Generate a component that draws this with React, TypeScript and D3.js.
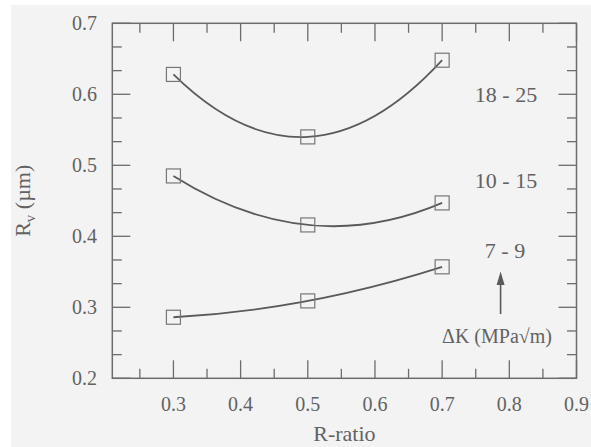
import React from "react";
import * as d3 from "d3";

const rRatio = [0.3, 0.5, 0.7];
const rv18to25 = [0.628, 0.54, 0.648];
const rv10to15 = [0.485, 0.416, 0.447];
const rv7to9 = [0.286, 0.309, 0.357];
const seriesLabels = ["18 - 25", "10 - 15", "7 - 9"];
const xTickValues = [0.3, 0.4, 0.5, 0.6, 0.7, 0.8, 0.9];
const xMinorValues = [0.25, 0.35, 0.45, 0.55, 0.65, 0.75, 0.85];
const yTickValues = [0.2, 0.3, 0.4, 0.5, 0.6, 0.7];
const xTitle = "R-ratio";
const kLabel = "\u0394K (MPa\u221Am)";

const W = 591;
const H = 447;
const L = 112.3, R = 576.5, T = 23.3, B = 378.3;

const x = d3.scaleLinear().domain([0.209, 0.9]).range([L, R]);
const y = d3.scaleLinear().domain([0.2, 0.7]).range([B, T]);

// Parabola through three points, drawn as one quadratic Bezier
function curveParabola(context: any) {
  let pts: [number, number][] = [];
  return {
    areaStart() {},
    areaEnd() {},
    lineStart() { pts = []; },
    point(px: number, py: number) { pts.push([px, py]); },
    lineEnd() {
      if (pts.length === 3) {
        const [p0, p1, p2] = pts;
        context.moveTo(p0[0], p0[1]);
        context.quadraticCurveTo(
          2 * p1[0] - (p0[0] + p2[0]) / 2,
          2 * p1[1] - (p0[1] + p2[1]) / 2,
          p2[0], p2[1]
        );
      } else if (pts.length) {
        context.moveTo(pts[0][0], pts[0][1]);
        for (let i = 1; i < pts.length; i++) context.lineTo(pts[i][0], pts[i][1]);
      }
    },
  };
}

const lineGen = d3.line<number>()
  .x((_, i) => x(rRatio[i]))
  .y((d) => y(d))
  .curve(curveParabola as any);

const series = [rv18to25, rv10to15, rv7to9];

const yMinor: number[] = [];
yTickValues.slice(0, -1).forEach((v) => {
  yMinor.push(v + 0.1 / 3, v + 0.2 / 3);
});

const TEXT = "#626262";
const AX = "#6c6c6c";
const LINE = "#5a5a5a";
const FONT = "Liberation Serif, Times New Roman, serif";
const ts = { fontFamily: FONT };

export default function App() {
  const majorLen = 18;
  const minorLen = 9.5;
  const m = 14;
  const labelX = 506;
  return (
    <svg width={W} height={H} style={{ position: "absolute", left: 0, top: 0, fontFamily: FONT }}>
      <rect x={0} y={0} width={W} height={H} fill="#ffffff" />
      <rect x={11} y={5} width={W - 11} height={H - 5} fill="#f3f3f3" />

      {/* frame */}
      <rect x={L} y={T} width={R - L} height={B - T} fill="none" stroke={AX} strokeWidth={1.5} />

      {/* x ticks bottom and top */}
      {xTickValues.map((v) => (
        <g key={"xt" + v}>
          <line x1={x(v)} x2={x(v)} y1={B} y2={B - majorLen} stroke={AX} strokeWidth={1.3} />
          <line x1={x(v)} x2={x(v)} y1={T} y2={T + majorLen} stroke={AX} strokeWidth={1.3} />
          <text x={x(v)} y={411} textAnchor="middle" fontSize={20} fill={TEXT} style={ts}>{v.toFixed(1)}</text>
        </g>
      ))}
      {xMinorValues.map((v) => (
        <g key={"xm" + v}>
          <line x1={x(v)} x2={x(v)} y1={B} y2={B - minorLen} stroke={AX} strokeWidth={1.3} />
          <line x1={x(v)} x2={x(v)} y1={T} y2={T + minorLen} stroke={AX} strokeWidth={1.3} />
        </g>
      ))}

      {/* y ticks left and right */}
      {yTickValues.map((v) => (
        <g key={"yt" + v}>
          <line x1={L} x2={L + majorLen} y1={y(v)} y2={y(v)} stroke={AX} strokeWidth={1.3} />
          <line x1={R} x2={R - majorLen} y1={y(v)} y2={y(v)} stroke={AX} strokeWidth={1.3} />
          <text x={97} y={y(v) + 7} textAnchor="end" fontSize={20} fill={TEXT} style={ts}>{v.toFixed(1)}</text>
        </g>
      ))}
      {yMinor.map((v) => (
        <g key={"ym" + v}>
          <line x1={L} x2={L + minorLen} y1={y(v)} y2={y(v)} stroke={AX} strokeWidth={1.3} />
          <line x1={R} x2={R - minorLen} y1={y(v)} y2={y(v)} stroke={AX} strokeWidth={1.3} />
        </g>
      ))}

      {/* axis titles */}
      <text x={(L + R) / 2} y={441} textAnchor="middle" fontSize={22} fill={TEXT} style={ts}>{xTitle}</text>
      <text transform={`translate(30, ${(T + B) / 2}) rotate(-90)`} textAnchor="middle" fontSize={22} fill={TEXT} style={ts}>
        R<tspan fontSize={15} dy={5}>v</tspan><tspan dy={-5}> (µm)</tspan>
      </text>

      {/* curves */}
      {series.map((s, i) => (
        <path key={"c" + i} d={lineGen(s) || ""} fill="none" stroke={LINE} strokeWidth={1.8} />
      ))}
      {/* markers */}
      {series.map((s, i) =>
        s.map((v, j) => (
          <rect key={"m" + i + "-" + j} x={x(rRatio[j]) - m / 2} y={y(v) - m / 2} width={m} height={m}
            fill="none" stroke="#777777" strokeWidth={1.2} />
        ))
      )}

      {/* series annotations */}
      <text x={labelX} y={102} textAnchor="middle" fontSize={22} fill={TEXT} style={ts}>{seriesLabels[0]}</text>
      <text x={labelX} y={188} textAnchor="middle" fontSize={22} fill={TEXT} style={ts}>{seriesLabels[1]}</text>
      <text x={labelX - 1} y={258} textAnchor="middle" fontSize={22} fill={TEXT} style={ts}>{seriesLabels[2]}</text>

      {/* arrow */}
      <line x1={x(0.787)} x2={x(0.787)} y1={314} y2={282} stroke={LINE} strokeWidth={1.6} />
      <path d={`M${x(0.787)},271.5 L${x(0.787) - 4},285 L${x(0.787) + 4},285 Z`} fill={LINE} />
      <text x={497} y={343} textAnchor="middle" fontSize={20} fill={TEXT} style={ts}>{kLabel}</text>
    </svg>
  );
}
